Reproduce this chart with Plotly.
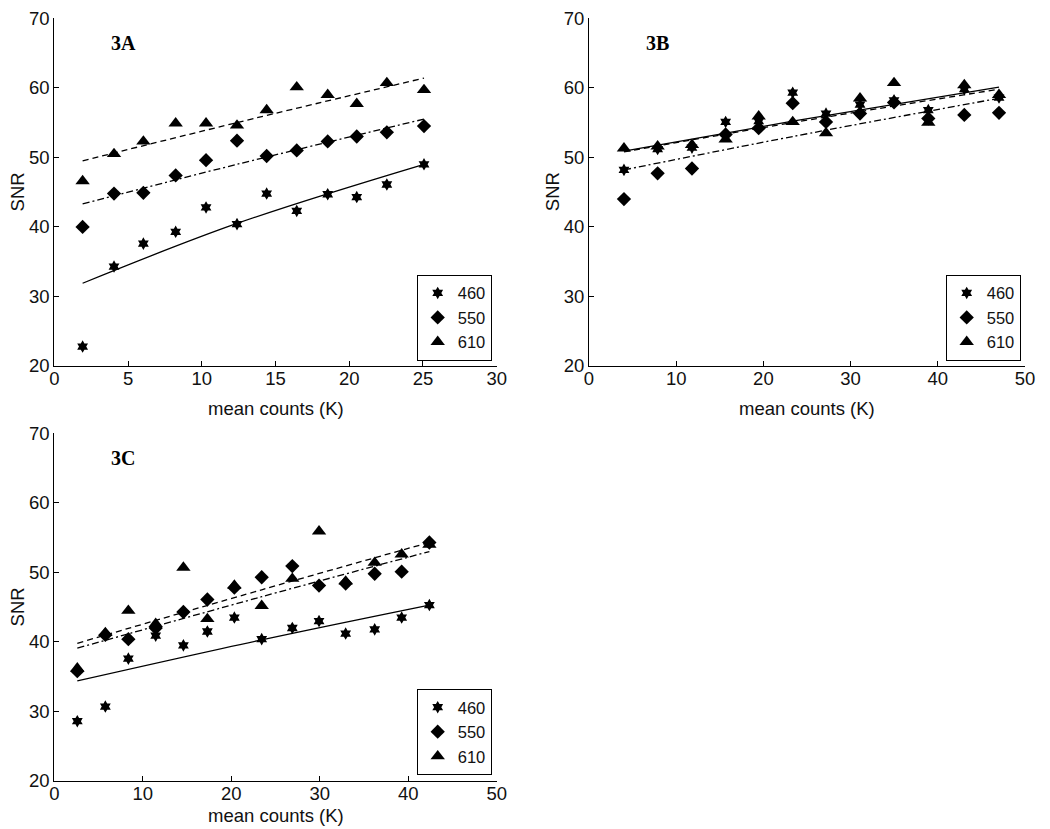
import plotly.graph_objects as go

# ---------------- data ----------------
A_x = [1.92, 4.05, 6.04, 8.23, 10.29, 12.39, 14.40, 16.44, 18.54, 20.51, 22.55, 25.07]
A_460 = [22.8, 34.3, 37.6, 39.3, 42.8, 40.4, 44.8, 42.3, 44.7, 44.3, 46.1, 49.0]
A_550 = [40.0, 44.8, 44.9, 47.4, 49.6, 52.4, 50.2, 51.0, 52.3, 53.0, 53.6, 54.5]
A_610 = [46.6, 50.5, 52.3, 54.9, 54.9, 54.6, 56.8, 60.1, 59.0, 57.7, 60.7, 59.7]
A_fit_x = [1.92, 12.39, 25.07]
A_fit_460 = [31.9, 40.5, 49.0]
A_fit_550 = [43.3, 49.0, 55.5]
A_fit_610 = [49.5, 55.0, 61.4]

B_x = [4.01, 7.87, 11.81, 15.67, 19.46, 23.36, 27.18, 31.08, 34.98, 38.91, 43.04, 47.02]
B_460 = [48.2, 51.2, 51.4, 55.1, 55.2, 59.3, 56.3, 57.6, 58.2, 56.8, 59.8, 58.6]
B_550 = [44.0, 47.7, 48.4, 53.3, 54.2, 57.8, 55.1, 56.3, 57.9, 55.6, 56.1, 56.4]
B_610 = [51.3, 51.6, 51.8, 52.6, 55.9, 55.1, 53.5, 58.5, 60.7, 55.0, 60.4, 59.0]
B_fit_x = [4.01, 23.36, 47.02]
B_fit_460 = [50.9, 55.2, 60.1]
B_fit_550 = [48.2, 53.0, 58.5]
B_fit_610 = [50.8, 55.0, 59.8]

C_x = [2.60, 5.77, 8.37, 11.46, 14.59, 17.30, 20.35, 23.44, 26.90, 29.92, 32.93, 36.21, 39.26, 42.39]
C_460 = [28.6, 30.7, 37.6, 40.9, 39.5, 41.5, 43.5, 40.4, 42.0, 43.0, 41.2, 41.8, 43.5, 45.3]
C_550 = [35.8, 41.0, 40.4, 42.0, 44.3, 46.1, 47.8, 49.3, 50.9, 48.1, 48.4, 49.8, 50.1, 54.3]
C_610 = [36.2, 41.3, 44.5, 42.6, 50.7, 43.3, 48.1, 45.2, 49.1, 55.9, 48.7, 51.4, 52.6, 54.0]
C_fit_x = [2.60, 23.44, 42.39]
C_fit_460 = [34.4, 40.3, 45.3]
C_fit_550 = [39.1, 46.5, 53.0]
C_fit_610 = [39.8, 47.5, 54.3]

series_names = ["460", "550", "610"]
panel_labels = ["3A", "3B", "3C"]
x_title = "mean counts (K)"
y_title = "SNR"

# ---------------- styling ----------------
W, H = 1050, 829
OFF = 8  # page body margin offset compensation
FONT = "Liberation Sans, Arial, sans-serif"
symbols = {"460": "hexagram", "550": "diamond", "610": "triangle-up"}
sizes = {"460": 9.5, "550": 11, "610": 12.5}
dashes = {"460": "solid", "550": "7px,3px,2px,3px", "610": "6px,4px"}

panels = [
    dict(xa="x", ya="y", legend="legend", x=A_x, ys=[A_460, A_550, A_610],
         fx=A_fit_x, fys=[A_fit_460, A_fit_550, A_fit_610]),
    dict(xa="x2", ya="y2", legend="legend2", x=B_x, ys=[B_460, B_550, B_610],
         fx=B_fit_x, fys=[B_fit_460, B_fit_550, B_fit_610]),
    dict(xa="x3", ya="y3", legend="legend3", x=C_x, ys=[C_460, C_550, C_610],
         fx=C_fit_x, fys=[C_fit_460, C_fit_550, C_fit_610]),
]

fig = go.Figure()
for p in panels:
    for name, fy in zip(series_names, p["fys"]):
        fig.add_trace(go.Scatter(
            x=p["fx"], y=fy, mode="lines", xaxis=p["xa"], yaxis=p["ya"],
            line=dict(color="black", width=1.3, dash=dashes[name], shape="spline"),
            showlegend=False, hoverinfo="skip"))
    for name, y in zip(series_names, p["ys"]):
        fig.add_trace(go.Scatter(
            x=p["x"], y=y, mode="markers", name=name, xaxis=p["xa"], yaxis=p["ya"],
            legend=p["legend"],
            marker=dict(symbol=symbols[name], size=sizes[name], color="black",
                        line=dict(width=0))))

def px_x(v):
    return (v - OFF) / W

def px_y(v):
    return 1 - (v - OFF) / H

TICKSIZE = 18.5
axis_common = dict(
    showgrid=False, zeroline=False, showline=True, linecolor="black", linewidth=1,
    ticks="inside", ticklen=5, tickwidth=1, tickcolor="black", automargin=False,
    ticklabeloverflow="allow",
    tickfont=dict(family=FONT, size=TICKSIZE, color="#111111"), mirror=False,
)
xaxis_extra = dict(ticklabelstandoff=-4)

# pixel geometry (screen pixels) of the three axes boxes
A_box = (54.3, 496.7, 18.3, 366.0)
B_box = (589.0, 1025.0, 18.3, 366.0)
C_box = (54.3, 496.7, 433.3, 781.0)

def dom(box):
    l, r, t, b = box
    return [px_x(l), px_x(r)], [px_y(b), px_y(t)]

dA = dom(A_box); dB = dom(B_box); dC = dom(C_box)

fig.update_layout(
    template="none",
    width=W, height=H, margin=dict(l=0, r=0, t=0, b=0, pad=0, autoexpand=False),
    paper_bgcolor="white", plot_bgcolor="white",
    font=dict(family=FONT, size=TICKSIZE, color="#111111"),
    xaxis=dict(domain=dA[0], anchor="y", range=[0, 30], dtick=5, tick0=0, **axis_common, **xaxis_extra),
    yaxis=dict(domain=dA[1], anchor="x", range=[20, 70], dtick=10, tick0=20, **axis_common),
    xaxis2=dict(domain=dB[0], anchor="y2", range=[0, 50], dtick=10, tick0=0, **axis_common, **xaxis_extra),
    yaxis2=dict(domain=dB[1], anchor="x2", range=[20, 70], dtick=10, tick0=20, **axis_common),
    xaxis3=dict(domain=dC[0], anchor="y3", range=[0, 50], dtick=10, tick0=0, **axis_common, **xaxis_extra),
    yaxis3=dict(domain=dC[1], anchor="x3", range=[20, 70], dtick=10, tick0=20, **axis_common),
    showlegend=True,
)

legend_common = dict(
    xanchor="right", yanchor="bottom", bgcolor="white", bordercolor="black",
    borderwidth=1, font=dict(family=FONT, size=16.5, color="#111111"),
    itemwidth=30, tracegroupgap=0,
)
fig.update_layout(
    legend=dict(x=px_x(491.7), y=px_y(360.7), **legend_common),
    legend2=dict(x=px_x(1020.7), y=px_y(360.7), **legend_common),
    legend3=dict(x=px_x(491.7), y=px_y(775.0), **legend_common),
)

annotations = []
# panel labels
for lab, xr, yr, xv in [("3A", "x", "y", 4.7), ("3B", "x2", "y2", 7.86), ("3C", "x3", "y3", 7.82)]:
    annotations.append(dict(text="<b>" + lab + "</b>", xref=xr, yref=yr, x=xv, y=66.5,
                            showarrow=False,
                            font=dict(family="Liberation Serif, Times New Roman, serif",
                                      size=20, color="black"),
                            xanchor="center", yanchor="middle"))
# axis titles (screen-pixel centres)
xtitle_y = [408.5, 408.5, 815.0]
for box, ty in zip([A_box, B_box, C_box], xtitle_y):
    l, r, t, b = box
    annotations.append(dict(text=x_title, xref="paper", yref="paper",
                            x=px_x((l + r) / 2), y=px_y(ty), showarrow=False,
                            xanchor="center", yanchor="middle",
                            font=dict(family=FONT, size=18.5, color="#111111")))
    annotations.append(dict(text=y_title, xref="paper", yref="paper",
                            x=px_x(l - 37), y=px_y((t + b) / 2), showarrow=False,
                            textangle=-90, xanchor="center", yanchor="middle",
                            font=dict(family=FONT, size=18.5, color="#111111")))
fig.update_layout(annotations=annotations)

fig.write_html("out.html")
